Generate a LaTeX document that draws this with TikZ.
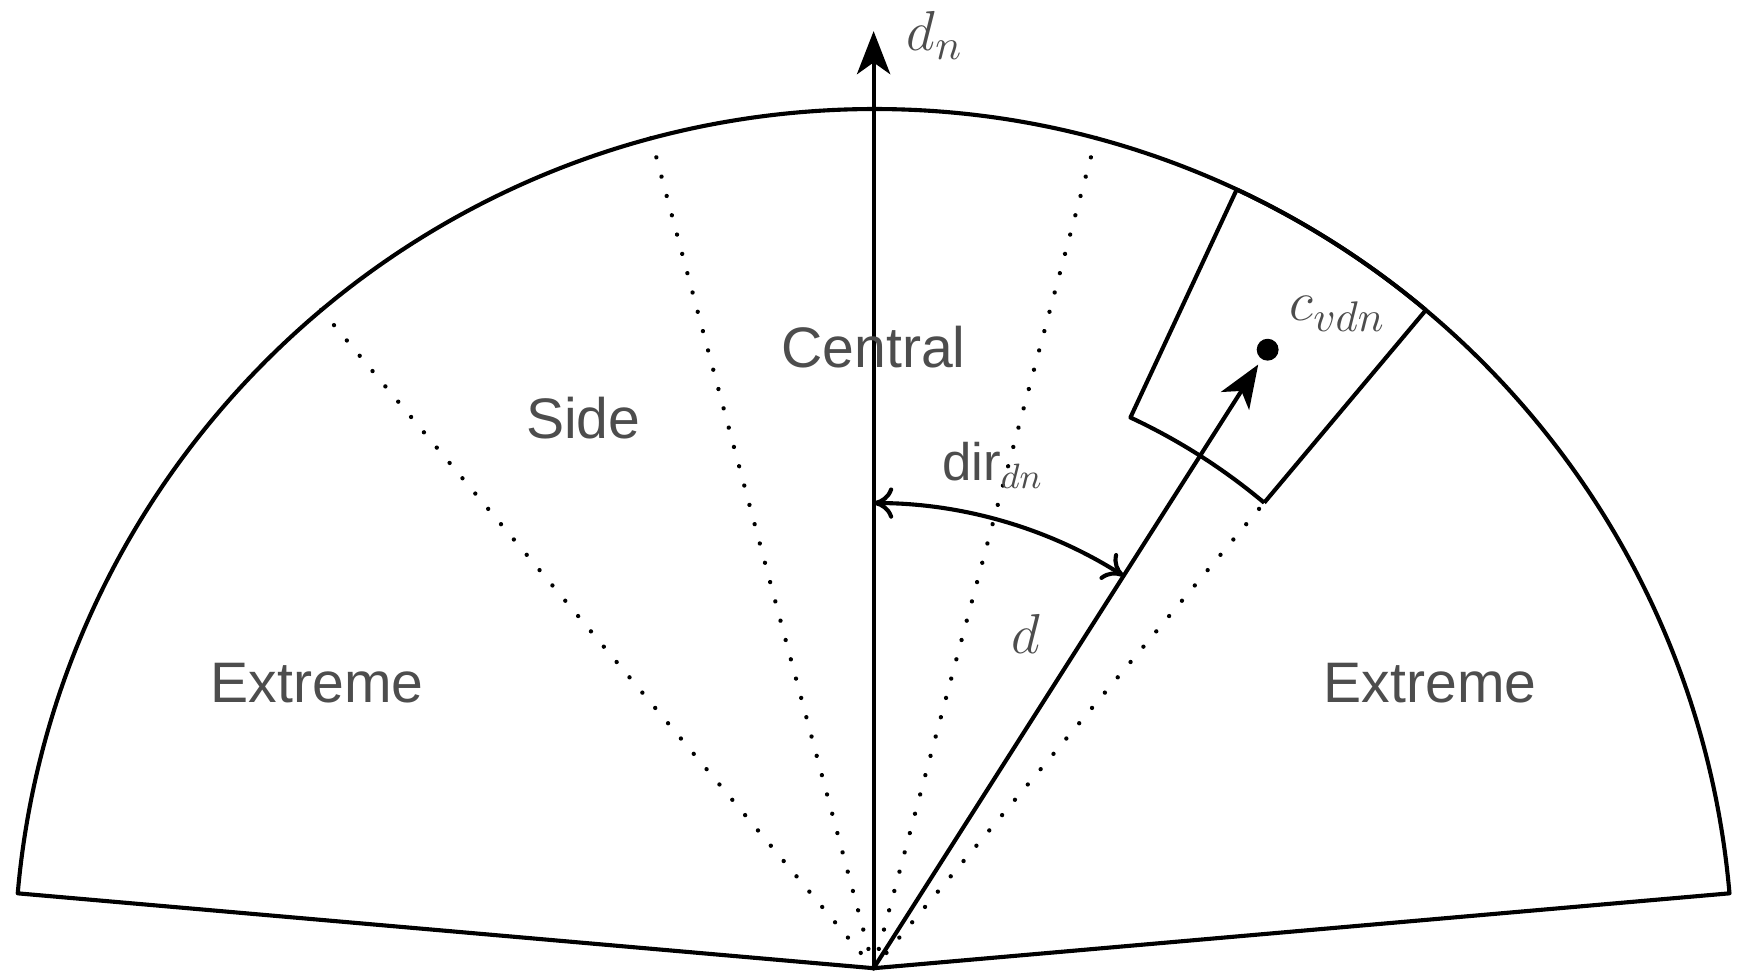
\documentclass[tikz,border=0pt]{standalone}
\usepackage{fontspec}
\setsansfont{Liberation Sans}
\usetikzlibrary{arrows.meta}
\definecolor{labelgray}{HTML}{4D4D4D}
\tikzset{
  zone/.style={text=labelgray, font=\sffamily\fontsize{14.6}{17}\selectfont},
  mathlbl/.style={text=labelgray, font=\fontsize{15}{17}\selectfont},
  border/.style={line width=1.05pt, line join=round},
  dots/.style={line width=1.1pt, line cap=round, dash pattern=on 0.01pt off 5.1pt},
  bigtip/.style={-{Stealth[length=11pt,width=8.5pt,inset=3pt]}},
  point/.style={circle, fill=black, inner sep=0pt, minimum size=5.6pt}
}
\begin{document}
\begin{tikzpicture}
  \useasboundingbox (-7.85,-0.04) rectangle (7.83,8.70);
  % Apex and point
  \coordinate (O) at (0,0);
  \coordinate (top) at (90:8.42);
  \node[point] (c) at (57.5:6.59) {};

  % Sector
  \draw[border] (O) -- (5:7.72) arc (5:175:7.72) -- cycle;

  % Zone borders
  \draw[dots] (O) -- (130:7.74);
  \draw[dots] (O) -- (105:7.74);
  \draw[dots] (O) -- (75:7.74);
  \draw[dots] (O) -- (50:5.46);

  % Cell
  \draw[border] (50:5.46) -- (50:7.72) arc (50:65:7.72) -- (65:5.46) arc (65:50:5.46);

  % Axes
  \draw[border, bigtip] (O) -- (top);
  \draw[border, bigtip, shorten >=1.5pt] (O) -- (c);
  \draw[border, {To[length=5pt,width=8pt]}-{To[length=5pt,width=8pt]}] (90:4.18) arc (90:57.5:4.18);

  % Labels
  \node[zone] (central) at (0,5.58) {Central};
  \node[zone] (side) at (-2.61,4.94) {Side};
  \node[zone] (extl) at (-5.00,2.56) {Extreme};
  \node[zone] (extr) at (5.00,2.56) {Extreme};
  \node[mathlbl] (dnlbl) at (0.55,8.38) {$d_n$};
  \node[text=labelgray, font=\sffamily\fontsize{13.5}{16}\selectfont] (dirlbl) at (1.07,4.52) {dir$_{dn}$};
  \node[mathlbl] (dlbl) at (1.37,3.00) {$d$};
  \node[mathlbl] (clbl) at (4.17,5.88) {$c_{vdn}$};
\end{tikzpicture}
\end{document}
